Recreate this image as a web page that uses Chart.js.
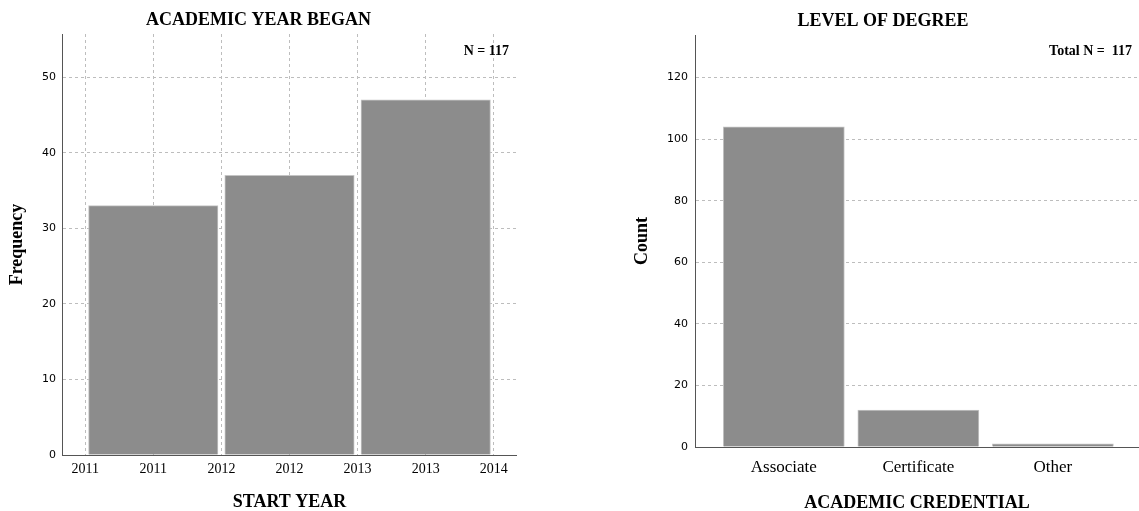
<!DOCTYPE html>
<html>
<head>
<meta charset="utf-8">
<style>
    body { margin: 0; background: #fff; }
    canvas { position: absolute; top: 0; }
    #year { left: 0; }
    #degree { left: 627px; }
</style>
</head>
<body>
    <canvas id="year" width="517" height="511"></canvas>
    <canvas id="degree" width="512" height="511"></canvas>
<script src="https://cdn.jsdelivr.net/npm/chart.js"></script>
<script>
    // start year histogram (bins one year wide)
    const yearBinStarts = [2011, 2012, 2013];
    const yearFrequency = [33, 37, 47];
    const yearTicks = [2011, 2011.5, 2012, 2012.5, 2013, 2013.5, 2014];
    const yearTickLabels = ['2011', '2011', '2012', '2012', '2013', '2013', '2014'];
    const freqTicks = [0, 10, 20, 30, 40, 50];

    // level of degree counts
    const credentials = ['Associate', 'Certificate', 'Other'];
    const credentialCounts = [104, 12, 1];
    const countTicks = [0, 20, 40, 60, 80, 100, 120];

    const serif = 'Liberation Serif';
    const sans = 'DejaVu Sans';
    const barFill = '#8c8c8c';
    const barEdge = '#c4c4c4';
    const gridCol = '#bdbdbd';
    const axisCol = '#555';

    // "N = ..." note in the upper right corner
    const nLabel = {
        id: 'nLabel',
        afterDraw(chart, args, opts) {
            const ctx = chart.ctx;
            const a = chart.chartArea;
            ctx.save();
            ctx.font = 'bold 14px "' + serif + '"';
            ctx.fillStyle = '#000';
            ctx.textAlign = 'right';
            ctx.textBaseline = 'middle';
            ctx.fillText(opts.text, a.right - opts.dx, opts.y);
            ctx.restore();
        }
    };

    function fixTicks(list) {
        return scale => { scale.ticks = list.map(v => ({ value: v })); };
    }

    const sum = arr => arr.reduce((s, v) => s + v, 0);

    new Chart(document.getElementById('year'), {
        type: 'bar',
        data: {
            datasets: [{
                data: yearBinStarts.map((s, i) => ({ x: s + 0.5, y: yearFrequency[i] })),
                backgroundColor: barFill,
                borderColor: barEdge,
                borderWidth: 1,
                barThickness: 'flex',
                categoryPercentage: 1,
                barPercentage: 0.95
            }]
        },
        options: {
            responsive: false,
            animation: false,
            layout: { padding: 0 },
            plugins: {
                legend: { display: false },
                tooltip: { enabled: false },
                title: {
                    display: true,
                    text: 'ACADEMIC YEAR BEGAN',
                    color: '#000',
                    font: { family: serif, size: 18, weight: 'bold', lineHeight: 1 },
                    padding: { top: 11, bottom: 5 }
                },
                nLabel: { text: 'N = ' + sum(yearFrequency), dx: 8, y: 51 }
            },
            scales: {
                x: {
                    type: 'linear',
                    offset: false,
                    min: 2010.83,
                    max: 2014.17,
                    afterBuildTicks: fixTicks(yearTicks),
                    afterFit: s => { s.height = 56; },
                    grid: { color: gridCol, drawTicks: false, offset: false },
                    border: { color: axisCol, width: 1, dash: [3, 3] },
                    ticks: {
                        color: '#000',
                        padding: 6,
                        font: { family: serif, size: 14 },
                        callback: (v, i) => yearTickLabels[i]
                    },
                    title: {
                        display: true,
                        text: 'START YEAR',
                        color: '#000',
                        font: { family: serif, size: 18, weight: 'bold', lineHeight: 1 },
                        padding: { top: 0, bottom: 0 }
                    }
                },
                y: {
                    min: 0,
                    max: 55.7,
                    afterBuildTicks: fixTicks(freqTicks),
                    afterFit: s => { s.width = 62; },
                    grid: { color: gridCol, drawTicks: false },
                    border: { color: axisCol, width: 1, dash: [3, 3] },
                    ticks: {
                        color: '#000',
                        padding: 6,
                        font: { family: sans, size: 11 }
                    },
                    title: {
                        display: true,
                        text: 'Frequency',
                        color: '#000',
                        font: { family: serif, size: 18, weight: 'bold', lineHeight: 1 },
                        padding: { top: 8, bottom: 0 }
                    }
                }
            }
        },
        plugins: [nLabel]
    });

    new Chart(document.getElementById('degree'), {
        type: 'bar',
        data: {
            datasets: [{
                data: credentials.map((c, i) => ({ x: i + 1, y: credentialCounts[i] })),
                backgroundColor: barFill,
                borderColor: barEdge,
                borderWidth: 1,
                barThickness: 'flex',
                categoryPercentage: 1,
                barPercentage: 0.9
            }]
        },
        options: {
            responsive: false,
            animation: false,
            layout: { padding: 0 },
            plugins: {
                legend: { display: false },
                tooltip: { enabled: false },
                title: {
                    display: true,
                    text: 'LEVEL OF DEGREE',
                    color: '#000',
                    font: { family: serif, size: 18, weight: 'bold', lineHeight: 1 },
                    padding: { top: 12, bottom: 5 }
                },
                nLabel: { text: 'Total N =  ' + sum(credentialCounts), dx: 7, y: 51 }
            },
            scales: {
                x: {
                    type: 'linear',
                    offset: false,
                    min: 0.34,
                    max: 3.64,
                    afterBuildTicks: fixTicks(credentials.map((c, i) => i + 1)),
                    afterFit: s => { s.height = 64; },
                    grid: { display: false, drawTicks: false, offset: false },
                    border: { color: axisCol, width: 1 },
                    ticks: {
                        color: '#000',
                        padding: 10,
                        font: { family: serif, size: 17 },
                        callback: (v, i) => credentials[i]
                    },
                    title: {
                        display: true,
                        text: 'ACADEMIC CREDENTIAL',
                        color: '#000',
                        font: { family: serif, size: 18, weight: 'bold', lineHeight: 1 },
                        padding: { top: 0, bottom: -1 }
                    }
                },
                y: {
                    min: 0,
                    max: 133.8,
                    afterBuildTicks: fixTicks(countTicks),
                    afterFit: s => { s.width = 68; },
                    grid: { color: gridCol, drawTicks: false },
                    border: { color: axisCol, width: 1, dash: [3, 3] },
                    ticks: {
                        color: '#000',
                        padding: 7,
                        font: { family: sans, size: 11 }
                    },
                    title: {
                        display: true,
                        text: 'Count',
                        color: '#000',
                        font: { family: serif, size: 18, weight: 'bold', lineHeight: 1 },
                        padding: { top: 6, bottom: 0 }
                    }
                }
            }
        },
        plugins: [nLabel]
    });
</script>
</body>
</html>
